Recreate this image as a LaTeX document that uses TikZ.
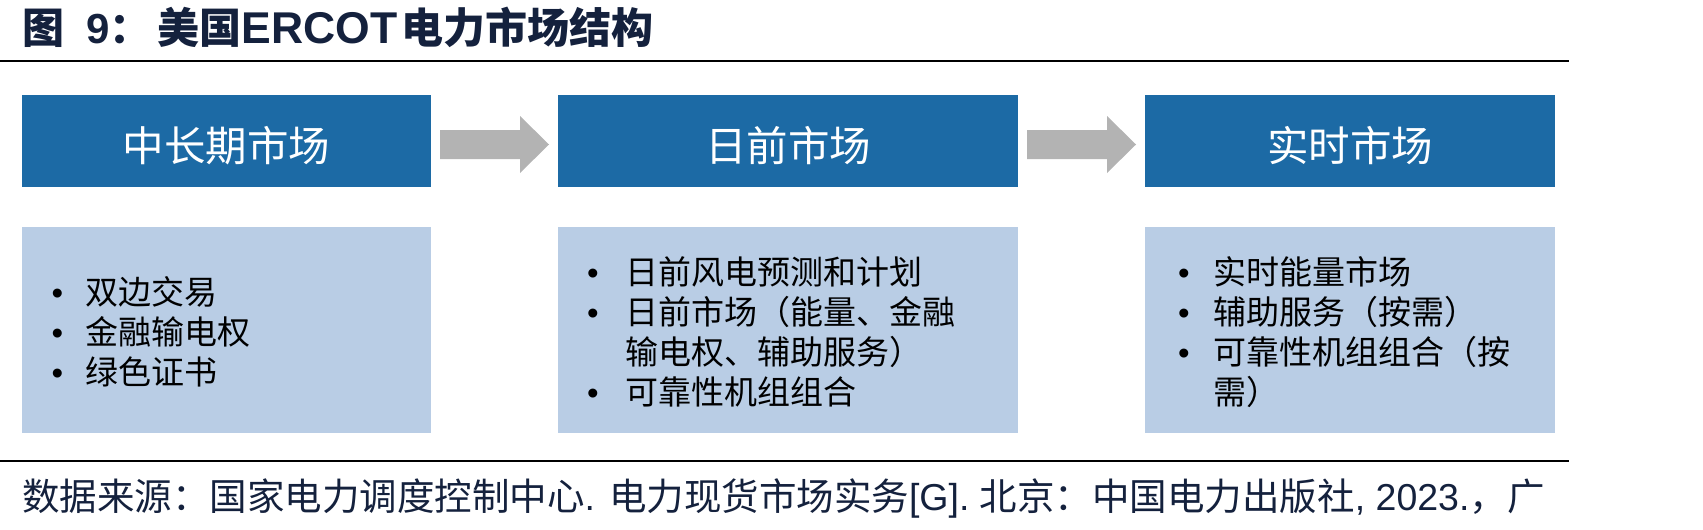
\documentclass[tikz,border=0pt]{standalone}
\usepackage{fontspec}
\setmainfont{Liberation Sans}
\newfontfamily\cjk{Noto Sans CJK SC}
\usetikzlibrary{calc}
\definecolor{hdrblue}{HTML}{1C6AA5}
\definecolor{bodyblue}{HTML}{B9CDE5}
\definecolor{arrowgray}{HTML}{B3B3B3}
\definecolor{navy}{HTML}{14213D}
\newcommand{\myblockarrow}[1]{%
  \fill[arrowgray] ($(#1)+(-54.5,-14.5)$) -- ($(#1)+(25.5,-14.5)$) -- ($(#1)+(25.5,-28.5)$)
    -- ($(#1)+(54.5,0)$) -- ($(#1)+(25.5,28.5)$) -- ($(#1)+(25.5,14.5)$) -- ($(#1)+(-54.5,14.5)$) -- cycle;}
\begin{document}
\begin{tikzpicture}[x=1pt,y=-1pt,
  hdrbox/.style={fill=hdrblue, draw=none, inner sep=0, minimum height=92pt},
  bodybox/.style={fill=bodyblue, draw=none, inner sep=0, minimum height=206pt},
  hdrtext/.style={anchor=base, inner sep=0, text=white, font=\cjk\fontsize{41.5}{48}\selectfont},
  item/.style={anchor=base west, inner sep=0, text=black, font=\cjk\fontsize{33}{40}\selectfont},
  dot/.style={anchor=base, inner sep=0, text=black, font=\fontsize{33}{40}\selectfont},
  rule/.style={line width=2.5pt, draw=black}]
\useasboundingbox (0,0) rectangle (1703,530);
% title
\node[anchor=base west, inner sep=0, text=navy, font=\fontsize{42}{50}\selectfont] (title) at (22,43)
  {{\cjk\bfseries 图}\hspace{22pt}\textbf{9}{\cjk\bfseries ：}\hspace{6pt}{\cjk\bfseries 美国}{\fontsize{44.5}{50}\selectfont\bfseries ERCOT}\hspace{4pt}{\cjk\bfseries 电力市场结构}};
\draw[rule] (0,61) -- (1569,61);
% header boxes
\node[hdrbox, minimum width=409pt] (h1) at (226.5,141) {};
\node[hdrbox, minimum width=460pt] (h2) at (788,141) {};
\node[hdrbox, minimum width=410pt] (h3) at (1350,141) {};
\node[hdrtext] (t1) at (226.5,161) {中长期市场};
\node[hdrtext] (t2) at (788,161) {日前市场};
\node[hdrtext] (t3) at (1350,161) {实时市场};
% arrows
\coordinate (a1) at ($(h1.east)!0.5!(h2.west)+(0,3.5)$);
\coordinate (a2) at ($(h2.east)!0.5!(h3.west)+(0,3.5)$);
\myblockarrow{a1}
\myblockarrow{a2}
% body boxes
\node[bodybox, minimum width=409pt] (b1) at (226.5,330) {};
\node[bodybox, minimum width=460pt] (b2) at (788,330) {};
\node[bodybox, minimum width=410pt] (b3) at (1350,330) {};
% box 1 items
\node[dot] (d11) at (57.5,304.5) {•};
\node[item] (i11) at (85,304.5) {双边交易};
\node[dot] (d12) at (57.5,344.5) {•};
\node[item] (i12) at (85,344.5) {金融输电权};
\node[dot] (d13) at (57.5,384.5) {•};
\node[item] (i13) at (85,384.5) {绿色证书};
% box 2 items
\node[dot] (d21) at (593,284.5) {•};
\node[item] (i21) at (625,284.5) {日前风电预测和计划};
\node[dot] (d22) at (593,324.5) {•};
\node[item] (i22) at (625,324.5) {日前市场（能量、金融};
\node[item] (i23) at (625,364.5) {输电权、辅助服务）};
\node[dot] (d24) at (593,404.5) {•};
\node[item] (i24) at (625,404.5) {可靠性机组组合};
% box 3 items
\node[dot] (d31) at (1184,284.5) {•};
\node[item] (i31) at (1213,284.5) {实时能量市场};
\node[dot] (d32) at (1184,324.5) {•};
\node[item] (i32) at (1213,324.5) {辅助服务（按需）};
\node[dot] (d33) at (1184,364.5) {•};
\node[item] (i33) at (1213,364.5) {可靠性机组组合（按};
\node[item] (i34) at (1213,404.5) {需）};
% bottom rule and source
\draw[rule] (0,461) -- (1569,461);
\node[anchor=base west, inner sep=0, text=navy, font=\fontsize{37.5}{44}\selectfont] (src) at (22,510)
  {{\cjk 数据来源：国家电力调度控制中心}. {\cjk 电力现货市场实务}[G]. {\cjk 北京：中国电力出版社}, 2023.{\cjk ，广}};
\end{tikzpicture}
\end{document}
